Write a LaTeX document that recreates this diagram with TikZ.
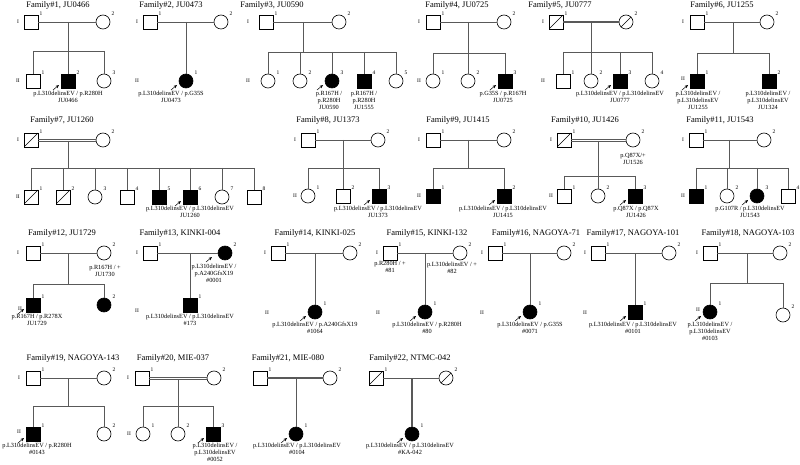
\documentclass[tikz,border=0pt]{standalone}
\usepackage{fontspec}
\setmainfont{Liberation Serif}
\usetikzlibrary{calc,arrows.meta}
\newcommand{\Psn}[5]{\node[#4] (#1) at (#2,#3) {};\node[num] (#1n) at ($(#1)+(10,-8)$) {#5};}
\newcommand{\Prb}[1]{\draw[arr] ($(#1)+(-15,9)$) -- ($(#1)+(-9,4)$);}
\newcommand{\Gn}[4]{\node[gen] (#1) at (#2,#3) {#4};}
\newcommand{\Lb}[4]{\node[lab] (#1) at (#2,#3) {#4};}
\newcommand{\Tt}[4]{\node[ttl] (#1) at (#2,#3) {#4};}
\newcommand{\Dbl}[2]{\draw[ln2] ([yshift=1.1pt]#1.east) -- ([yshift=1.1pt]#2.west);\draw[ln2] ([yshift=-1.1pt]#1.east) -- ([yshift=-1.1pt]#2.west);}
\begin{document}
\begin{tikzpicture}[x=1pt,y=-1pt,
  sym/.style={draw=black, line width=0.6pt, inner sep=0, minimum size=14pt, fill=white},
  M/.style={sym, rectangle},
  F/.style={sym, circle},
  MA/.style={M, fill=black},
  FA/.style={F, fill=black},
  dec/.style={path picture={\draw[line width=0.6pt] (path picture bounding box.south west) -- (path picture bounding box.north east);}},
  MD/.style={M, dec},
  FD/.style={F, dec},
  num/.style={font=\fontsize{5.5}{6}\selectfont, inner sep=0},
  gen/.style={font=\fontsize{5.5}{6}\selectfont, inner sep=0},
  lab/.style={font=\fontsize{6.3}{7}\selectfont, align=center, inner sep=0, anchor=north},
  ttl/.style={font=\fontsize{8.5}{9}\selectfont, inner sep=0},
  ln/.style={draw=black!65, line width=0.8pt},
  ln2/.style={draw=black!65, line width=0.6pt},
  thk/.style={draw=black!65, line width=1.4pt},
  arr/.style={-{Stealth[length=3.5pt,width=3pt]}, line width=0.5pt, draw=black}
]
\useasboundingbox (0,0) rectangle (800,465);
\fill[white] (0,0) rectangle (800,465);

% ---------- Family 1
\Tt{t1}{58}{5}{Family\#1, JU0466}
\Gn{a1g}{18}{22}{I}
\Psn{a1}{31}{22}{M}{1}
\Psn{a2}{103}{22}{F}{2}
\draw[ln] (a1) -- (a2);
\coordinate (a1m) at (68,22);
\coordinate (a1s) at (68,51);
\Gn{a2g}{18}{81}{II}
\Psn{a3}{33}{81}{M}{1}
\Psn{a4}{68}{81}{MA}{2}
\Psn{a5}{104}{81}{F}{3}
\draw[ln] (a1m) -- (a4);
\draw[ln] (a3.north |- a1s) -- (a5.north |- a1s);
\draw[ln] (a3.north |- a1s) -- (a3);
\draw[ln] (a5.north |- a1s) -- (a5);
\Prb{a4}
\Lb{a4l}{68}{91}{p.L310delinsEV / p.R280H\\JU0466}

% ---------- Family 2
\Tt{t2}{171}{5}{Family\#2, JU0473}
\Gn{b1g}{137}{22}{I}
\Psn{b1}{150}{22}{M}{1}
\Psn{b2}{221}{22}{F}{2}
\draw[ln] (b1) -- (b2);
\coordinate (b1m) at (186,22);
\Gn{b2g}{137}{81}{II}
\Psn{b3}{186}{81}{FA}{1}
\draw[ln] (b1m) -- (b3);
\Prb{b3}
\Lb{b3l}{171}{91}{p.L310delinsEV / p.G35S\\JU0473}

% ---------- Family 3
\Tt{t3}{272}{5}{Family\#3, JU0590}
\Gn{c1g}{248}{22}{I}
\Psn{c1}{266}{22}{M}{1}
\Psn{c2}{339}{22}{F}{2}
\draw[ln] (c1) -- (c2);
\coordinate (c1m) at (303,22);
\coordinate (c1s) at (303,52);
\draw[ln] (c1m) -- (c1s);
\Gn{c2g}{248}{81}{II}
\Psn{c3}{268}{81}{F}{1}
\Psn{c4}{300}{81}{F}{2}
\Psn{c5}{332}{81}{FA}{3}
\Psn{c6}{364}{81}{MA}{4}
\Psn{c7}{396}{81}{F}{5}
\draw[ln] (c3.north |- c1s) -- (c7.north |- c1s);
\foreach \k in {c3,c4,c5,c6,c7} {\draw[ln] (\k.north |- c1s) -- (\k);}
\Prb{c5}
\Lb{c5l}{329}{91}{p.R167H /\\p.R280H\\JU0590}
\Lb{c6l}{364}{91}{p.R167H /\\p.R280H\\JU1555}

% ---------- Family 4
\Tt{t4}{457}{5}{Family\#4, JU0725}
\Gn{d1g}{419}{22}{I}
\Psn{d1}{433}{22}{M}{1}
\Psn{d2}{504}{22}{F}{2}
\draw[ln] (d1) -- (d2);
\coordinate (d1m) at (468,22);
\coordinate (d1s) at (468,53);
\Gn{d2g}{419}{81}{II}
\Psn{d3}{433}{81}{F}{1}
\Psn{d4}{468}{81}{F}{2}
\Psn{d5}{505}{81}{MA}{3}
\draw[ln] (d1m) -- (d4);
\draw[ln] (d3.north |- d1s) -- (d5.north |- d1s);
\draw[ln] (d3.north |- d1s) -- (d3);
\draw[ln] (d5.north |- d1s) -- (d5);
\Prb{d5}
\Lb{d5l}{503}{91}{p.G35S / p.R167H\\JU0725}

% ---------- Family 5
\Tt{t5}{560}{5}{Family\#5, JU0777}
\Gn{e1g}{543}{22}{I}
\Psn{e1}{556}{22}{MD}{1}
\Psn{e2}{626}{22}{FD}{2}
\draw[thk] (e1) -- (e2);
\coordinate (e1m) at (591,22);
\coordinate (e1s) at (591,52);
\Gn{e2g}{543}{81}{II}
\Psn{e3}{563}{81}{M}{1}
\Psn{e4}{591}{81}{F}{2}
\Psn{e5}{620}{81}{MA}{3}
\Psn{e6}{652}{81}{F}{4}
\draw[ln] (e1m) -- (e4);
\draw[ln] (e3.north |- e1s) -- (e6.north |- e1s);
\foreach \k in {e3,e5,e6} {\draw[ln] (\k.north |- e1s) -- (\k);}
\Prb{e5}
\Lb{e5l}{620}{91}{p.L310delinsEV / p.L310delinsEV\\JU0777}

% ---------- Family 6
\Tt{t6}{722}{5}{Family\#6, JU1255}
\Gn{f1g}{683}{22}{I}
\Psn{f1}{697}{22}{M}{1}
\Psn{f2}{767}{22}{F}{2}
\draw[ln] (f1) -- (f2);
\coordinate (f1m) at (733,22);
\coordinate (f1s) at (733,53);
\draw[ln] (f1m) -- (f1s);
\Gn{f2g}{683}{79}{II}
\Psn{f3}{697}{81}{MA}{1}
\Psn{f4}{769}{81}{MA}{2}
\draw[ln] (f3.north |- f1s) -- (f4.north |- f1s);
\draw[ln] (f3.north |- f1s) -- (f3);
\draw[ln] (f4.north |- f1s) -- (f4);
\Prb{f3}
\Lb{f3l}{698}{91}{p.L310delinsEV /\\p.L310delinsEV\\JU1255}
\Lb{f4l}{768}{91}{p.L310delinsEV /\\p.L310delinsEV\\JU1324}

% ---------- Family 7
\Tt{t7}{62}{120}{Family\#7, JU1260}
\Gn{g1g}{18}{140}{I}
\Psn{g1}{31}{140}{MD}{1}
\Psn{g2}{103}{140}{F}{2}
\Dbl{g1}{g2}
\coordinate (g1m) at (68,141);
\coordinate (g1s) at (68,168);
\draw[ln] (g1m) -- (g1s);
\Gn{g2g}{18}{197}{II}
\Psn{g3}{31}{197}{MD}{1}
\Psn{g4}{63}{197}{MD}{2}
\Psn{g5}{95}{197}{F}{3}
\Psn{g6}{127}{197}{M}{4}
\Psn{g7}{159}{197}{MA}{5}
\Psn{g8}{190}{197}{MA}{6}
\Psn{g9}{222}{197}{F}{7}
\Psn{g10}{254}{197}{M}{8}
\draw[ln] (g3.north |- g1s) -- (g10.north |- g1s);
\foreach \k in {g3,g4,g5,g6,g7,g8,g9,g10} {\draw[ln] (\k.north |- g1s) -- (\k);}
\Prb{g8}
\Lb{g8l}{190}{206}{p.L310delinsEV / p.L310delinsEV\\JU1260}

% ---------- Family 8
\Tt{t8}{328}{120}{Family\#8, JU1373}
\Gn{h1g}{295}{140}{I}
\Psn{h1}{308}{140}{M}{1}
\Psn{h2}{378}{140}{F}{2}
\draw[ln] (h1) -- (h2);
\coordinate (h1m) at (343,140);
\coordinate (h1s) at (343,168);
\Gn{h2g}{295}{196}{II}
\Psn{h3}{308}{196}{F}{1}
\Psn{h4}{343}{196}{M}{2}
\Psn{h5}{379}{196}{MA}{3}
\draw[ln] (h1m) -- (h4);
\draw[ln] (h3.north |- h1s) -- (h5.north |- h1s);
\draw[ln] (h3.north |- h1s) -- (h3);
\draw[ln] (h5.north |- h1s) -- (h5);
\Prb{h5}
\Lb{h5l}{378}{206}{p.L310delinsEV / p.L310delinsEV\\JU1373}

% ---------- Family 9
\Tt{t9}{458}{120}{Family\#9, JU1415}
\Gn{i1g}{419}{140}{I}
\Psn{i1}{433}{140}{M}{1}
\Psn{i2}{504}{140}{F}{2}
\draw[ln] (i1) -- (i2);
\coordinate (i1m) at (468,140);
\coordinate (i1s) at (468,168);
\draw[ln] (i1m) -- (i1s);
\Gn{i2g}{419}{196}{II}
\Psn{i3}{433}{196}{MA}{1}
\Psn{i4}{504}{196}{MA}{2}
\draw[ln] (i3.north |- i1s) -- (i4.north |- i1s);
\draw[ln] (i3.north |- i1s) -- (i3);
\draw[ln] (i4.north |- i1s) -- (i4);
\Prb{i4}
\Lb{i4l}{503}{206}{p.L310delinsEV / p.L310delinsEV\\JU1415}

% ---------- Family 10
\Tt{t10}{585}{120}{Family\#10, JU1426}
\Gn{j1g}{551}{140}{I}
\Psn{j1}{564}{140}{MD}{1}
\Psn{j2}{633}{140}{F}{2}
\Dbl{j1}{j2}
\Lb{j2l}{633}{153}{p.Q87X/+\\JU1526}
\coordinate (j1m) at (598,141);
\coordinate (j1s) at (598,176);
\Gn{j2g}{551}{196}{II}
\Psn{j3}{564}{196}{M}{1}
\Psn{j4}{598}{196}{F}{2}
\Psn{j5}{635}{196}{MA}{3}
\draw[ln] (j1m) -- (j4);
\draw[ln] (j3.north |- j1s) -- (j5.north |- j1s);
\draw[ln] (j3.north |- j1s) -- (j3);
\draw[ln] (j5.north |- j1s) -- (j5);
\Prb{j5}
\Lb{j5l}{636}{206}{p.Q87X / p.Q87X\\JU1426}

% ---------- Family 11
\Tt{t11}{720}{120}{Family\#11, JU1543}
\Gn{k1g}{683}{140}{I}
\Psn{k1}{696}{140}{M}{1}
\Psn{k2}{764}{140}{F}{2}
\draw[ln] (k1) -- (k2);
\coordinate (k1m) at (729,140);
\coordinate (k1s) at (729,168);
\draw[ln] (k1m) -- (k1s);
\Gn{k2g}{683}{196}{II}
\Psn{k3}{696}{196}{MA}{1}
\Psn{k4}{727}{196}{F}{2}
\Psn{k5}{757}{196}{FA}{3}
\Psn{k6}{788}{196}{M}{4}
\draw[ln] (k3.north |- k1s) -- (k6.north |- k1s);
\foreach \k in {k3,k4,k5,k6} {\draw[ln] (\k.north |- k1s) -- (\k);}
\Prb{k5}
\Lb{k5l}{750}{206}{p.G107R / p.L310delinsEV\\JU1543}

% ---------- Family 12
\Tt{t12}{62}{233}{Family\#12, JU1729}
\Gn{l1g}{18}{253}{I}
\Psn{l1}{33}{253}{M}{1}
\Psn{l2}{104}{253}{F}{2}
\draw[ln] (l1) -- (l2);
\Lb{l2l}{105}{265}{p.R167H / +\\JU1730}
\coordinate (l1m) at (68,253);
\coordinate (l1s) at (68,284);
\draw[ln] (l1m) -- (l1s);
\Gn{l2g}{20}{309}{II}
\Psn{l3}{33}{305}{MA}{1}
\Psn{l4}{104}{305}{FA}{2}
\draw[ln] (l3.north |- l1s) -- (l4.north |- l1s);
\draw[ln] (l3.north |- l1s) -- (l3);
\draw[ln] (l4.north |- l1s) -- (l4);
\Prb{l3}
\Lb{l3l}{37}{314}{p.R167H / p.R278X\\JU1729}

% ---------- Family 13
\Tt{t13}{180}{233}{Family\#13, KINKI-004}
\Gn{m1g}{137}{253}{I}
\Psn{m1}{150}{253}{M}{1}
\Psn{m2}{225}{253}{FA}{2}
\draw[ln] (m1) -- (m2);
\draw[arr] ($(m2)+(-19,9)$) -- ($(m2)+(-13,4)$);
\Lb{m2l}{214}{264}{p.L310delinsEV /\\p.A240GfsX19\\\#0001}
\coordinate (m1m) at (190,253);
\Gn{m2g}{137}{311}{II}
\Psn{m3}{190}{305}{MA}{1}
\draw[ln] (m1m) -- (m3);
\Lb{m3l}{190}{314}{p.L310delinsEV / p.L310delinsEV\\\#173}

% ---------- Family 14
\Tt{t14}{315}{233}{Family\#14, KINKI-025}
\Gn{n1g}{265}{253}{I}
\Psn{n1}{278}{253}{M}{1}
\Psn{n2}{350}{253}{F}{2}
\draw[ln] (n1) -- (n2);
\coordinate (n1m) at (315,253);
\Gn{n2g}{267}{313}{II}
\Psn{n3}{315}{312}{FA}{1}
\draw[ln] (n1m) -- (n3);
\Prb{n3}
\Lb{n3l}{315}{322}{p.L310delinsEV / p.A240GfsX19\\\#1064}

% ---------- Family 15
\Tt{t15}{427}{233}{Family\#15, KINKI-132}
\Gn{o1g}{377}{253}{I}
\Psn{o1}{390}{253}{M}{1}
\Psn{o2}{460}{253}{F}{2}
\draw[ln] (o1) -- (o2);
\Lb{o1l}{390}{261}{p.R280H / +\\\#81}
\Lb{o2l}{452}{262}{p.L310delinsEV / +\\\#82}
\coordinate (o1m) at (425,253);
\Gn{o2g}{378}{313}{II}
\Psn{o3}{425}{312}{FA}{1}
\draw[ln] (o1m) -- (o3);
\Prb{o3}
\Lb{o3l}{427}{322}{p.L310delinsEV / p.R280H\\\#80}

% ---------- Family 16
\Tt{t16}{536}{233}{Family\#16, NAGOYA-71}
\Gn{p1g}{482}{253}{I}
\Psn{p1}{495}{253}{M}{1}
\Psn{p2}{564}{253}{F}{2}
\draw[ln] (p1) -- (p2);
\coordinate (p1m) at (530,253);
\Gn{p2g}{482}{313}{II}
\Psn{p3}{530}{312}{FA}{1}
\draw[ln] (p1m) -- (p3);
\Prb{p3}
\Lb{p3l}{530}{322}{p.L310delinsEV / p.G35S\\\#0071}

% ---------- Family 17
\Tt{t17}{633}{233}{Family\#17, NAGOYA-101}
\Gn{q1g}{585}{253}{I}
\Psn{q1}{598}{253}{M}{1}
\Psn{q2}{669}{253}{F}{2}
\draw[ln] (q1) -- (q2);
\coordinate (q1m) at (635,253);
\Gn{q2g}{585}{313}{II}
\Psn{q3}{635}{312}{MA}{1}
\draw[ln] (q1m) -- (q3);
\Prb{q3}
\Lb{q3l}{633}{322}{p.L310delinsEV / p.L310delinsEV\\\#0101}

% ---------- Family 18
\Tt{t18}{748}{233}{Family\#18, NAGOYA-103}
\Gn{r1g}{697}{253}{I}
\Psn{r1}{710}{253}{M}{1}
\Psn{r2}{780}{253}{F}{2}
\draw[ln] (r1) -- (r2);
\coordinate (r1m) at (747,253);
\coordinate (r1s) at (747,283);
\draw[ln] (r1m) -- (r1s);
\Gn{r2g}{698}{310}{II}
\Psn{r3}{710}{312}{FA}{1}
\Psn{r4}{783}{315}{F}{2}
\draw[ln] (r3.north |- r1s) -- (r4.north |- r1s);
\draw[ln] (r3.north |- r1s) -- (r3);
\draw[ln] (r4.north |- r1s) -- (r4);
\Prb{r3}
\Lb{r3l}{710}{322}{p.L310delinsEV /\\p.L310delinsEV\\\#0103}

% ---------- Family 19
\Tt{t19}{73}{358}{Family\#19, NAGOYA-143}
\Gn{s1g}{19}{378}{I}
\Psn{s1}{33}{378}{M}{1}
\Psn{s2}{104}{378}{F}{2}
\draw[ln] (s1) -- (s2);
\coordinate (s1m) at (68,378);
\coordinate (s1s) at (68,406);
\draw[ln] (s1m) -- (s1s);
\Gn{s2g}{19}{432}{II}
\Psn{s3}{33}{434}{MA}{1}
\Psn{s4}{104}{434}{F}{2}
\draw[ln] (s3.north |- s1s) -- (s4.north |- s1s);
\draw[ln] (s3.north |- s1s) -- (s3);
\draw[ln] (s4.north |- s1s) -- (s4);
\Prb{s3}
\Lb{s3l}{37}{443}{p.L310delinsEV / p.R280H\\\#0143}

% ---------- Family 20
\Tt{t20}{173}{358}{Family\#20, MIE-037}
\Gn{u1g}{128}{378}{I}
\Psn{u1}{142}{378}{M}{1}
\Psn{u2}{214}{378}{F}{2}
\Dbl{u1}{u2}
\coordinate (u1m) at (178,379);
\coordinate (u1s) at (178,406);
\Gn{u2g}{129}{434}{II}
\Psn{u3}{143}{434}{F}{1}
\Psn{u4}{178}{434}{F}{2}
\Psn{u5}{213}{434}{MA}{3}
\draw[ln] (u1m) -- (u4);
\draw[ln] (u3.north |- u1s) -- (u5.north |- u1s);
\draw[ln] (u3.north |- u1s) -- (u3);
\draw[ln] (u5.north |- u1s) -- (u5);
\Prb{u5}
\Lb{u5l}{215}{443}{p.L310delinsEV /\\p.L310delinsEV\\\#0052}

% ---------- Family 21
\Tt{t21}{288}{358}{Family\#21, MIE-080}
\Psn{v1}{260}{378}{M}{1}
\Psn{v2}{330}{378}{F}{2}
\draw[thk] (v1) -- (v2);
\coordinate (v1m) at (296,378);
\Psn{v3}{296}{434}{FA}{1}
\draw[ln] (v1m) -- (v3);
\Prb{v3}
\Lb{v3l}{297}{443}{p.L310delinsEV / p.L310delinsEV\\\#0104}

% ---------- Family 22
\Tt{t22}{410}{358}{Family\#22, NTMC-042}
\Psn{w1}{376}{378}{MD}{1}
\Psn{w2}{446}{378}{FD}{2}
\draw[ln] (w1) -- (w2);
\coordinate (w1m) at (412,378);
\Psn{w3}{412}{434}{FA}{1}
\draw[thk] (w1m) -- (w3);
\Prb{w3}
\Lb{w3l}{410}{443}{p.L310delinsEV / p.L310delinsEV\\\#KA-042}
\end{tikzpicture}
\end{document}
